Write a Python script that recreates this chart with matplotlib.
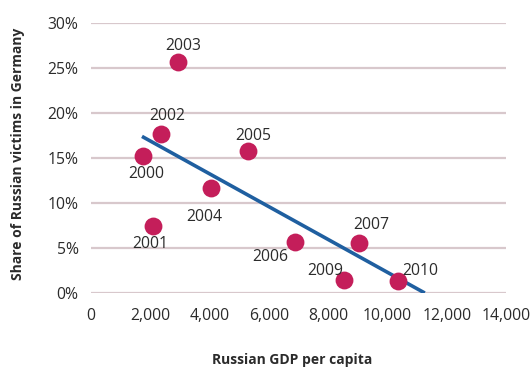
import matplotlib
matplotlib.use("Agg")
import matplotlib.pyplot as plt
from matplotlib.ticker import FuncFormatter

# Data
years = ["2000", "2001", "2002", "2003", "2004", "2005", "2006", "2007", "2009", "2010"]
gdp = [1745, 2080, 2350, 2950, 4060, 5280, 6880, 9050, 8530, 10370]
share = [15.2, 7.5, 17.7, 25.7, 11.7, 15.8, 5.7, 5.6, 1.45, 1.35]
trend_x = [1720, 11260]
trend_y = [17.4, 0.0]
x_ticks = [0, 2000, 4000, 6000, 8000, 10000, 12000, 14000]
y_ticks = [0, 5, 10, 15, 20, 25, 30]

# label offsets in pixels (style)
offsets = [(4, -18), (-2, -18), (7, 18), (5, 16), (-7, -29), (6, 15),
           (-25, -15), (12, 18), (-19, 9), (22, 10)]

plt.rcParams['font.family'] = ['Open Sans', 'DejaVu Sans']
text_color = '#2b2b2b'

fig = plt.figure(figsize=(5.31, 3.75), dpi=100)
ax = fig.add_axes([91/531, 1-293/375, (506-91)/531, (293-23)/375])

ax.set_xlim(0, 14000)
ax.set_ylim(0, 30)
ax.set_xticks(x_ticks)
ax.set_yticks(y_ticks)
ax.xaxis.set_major_formatter(FuncFormatter(lambda v, p: f"{int(v):,}"))
ax.yaxis.set_major_formatter(FuncFormatter(lambda v, p: f"{int(v)}%"))
for s in ax.spines.values():
    s.set_visible(False)
ax.tick_params(axis='both', length=0, labelsize=11.3, colors=text_color)
ax.tick_params(axis='y', pad=9)
ax.tick_params(axis='x', pad=11)
ax.grid(axis='y', color='#D8C8CC', linewidth=1.6)
ax.set_axisbelow(True)

ax.plot(trend_x, trend_y, color='#1F5FA0', linewidth=2.6, zorder=2, solid_capstyle='butt')
ax.scatter(gdp, share, s=165, color='#C41E5A', zorder=3, clip_on=False, linewidths=0)

for yr, x, y, (dx, dy) in zip(years, gdp, share, offsets):
    ax.annotate(yr, (x, y), xytext=(dx, dy), textcoords='offset pixels',
                ha='center', va='center', fontsize=11.3, color=text_color, zorder=4)

fig.text(18/531, 1-154/375, "Share of Russian victims in Germany", rotation=90,
         ha='center', va='center', fontsize=10, fontweight='bold', color=text_color)
fig.text(292/531, 1-360/375, "Russian GDP per capita", ha='center', va='center',
         fontsize=10, fontweight='bold', color=text_color)

fig.savefig("out.png", dpi=100)
